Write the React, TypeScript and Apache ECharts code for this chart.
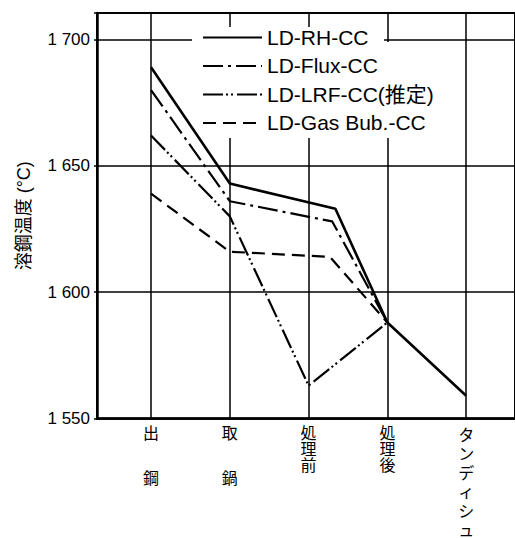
import React, { useEffect, useRef } from 'react';
import * as echarts from 'echarts';

const categories = ['出鋼', '取鍋', '処理前', '処理後', 'タンディシュ'];
const seriesNames = ['LD-RH-CC', 'LD-Flux-CC', 'LD-LRF-CC(推定)', 'LD-Gas Bub.-CC'];
const rhX = [0, 1, 2.34, 3, 4];
const rhY = [1689, 1643, 1633, 1588, 1559];
const fluxX = [0, 1, 2.3, 3];
const fluxY = [1680, 1636, 1628, 1588];
const lrfX = [0, 1, 2, 3];
const lrfY = [1662, 1630, 1563, 1588];
const gasX = [0, 1, 2.27, 3];
const gasY = [1639, 1616, 1614, 1588];
const categoryPositions = [0, 1, 2, 3, 4];

const FONT = "'Liberation Sans', 'Noto Sans CJK JP', sans-serif";

function pairs(xs: number[], ys: number[]) {
  return xs.map((x, i) => [x, ys[i]]);
}

export default function App() {
  const ref = useRef<HTMLDivElement>(null);
  useEffect(() => {
    if (!ref.current) return;
    const chart = echarts.init(ref.current, undefined, { renderer: 'svg' });
    const lineBase = {
      type: 'line',
      symbol: 'none',
      showSymbol: false,
      silent: true,
      itemStyle: { color: '#000' },
    };
    chart.setOption({
      animation: false,
      backgroundColor: '#fff',
      textStyle: { fontFamily: FONT, color: '#000' },
      grid: {
        left: 97,
        top: 13,
        right: -3,
        bottom: 111,
        show: true,
        borderColor: '#000',
        borderWidth: 2,
      },
      graphic: [
        {
          type: 'rect',
          z: 3,
          silent: true,
          shape: { x: 192, y: 27, width: 192, height: 15 },
          style: { fill: '#fff' },
        },
        {
          type: 'rect',
          z: 3,
          silent: true,
          shape: { x: 192, y: 42, width: 250, height: 96 },
          style: { fill: '#fff' },
        },
      ],
      legend: {
        data: seriesNames,
        orient: 'vertical',
        left: 192,
        top: 24,
        padding: [3, 8, 5, 10],
        itemWidth: 59,
        itemHeight: 14,
        itemGap: 7.5,
        selectedMode: false,
        itemStyle: { opacity: 0 },
        textStyle: { fontSize: 21, color: '#000', fontFamily: FONT },
        z: 10,
      },
      xAxis: {
        type: 'value',
        min: -0.686,
        max: 4.62,
        axisLine: { show: true, onZero: false, lineStyle: { color: '#000', width: 2.5 } },
        axisTick: { show: true, length: 0, customValues: categoryPositions },
        splitLine: { show: true, lineStyle: { color: '#000', width: 1.5 } },
        axisLabel: {
          customValues: categoryPositions,
          margin: 7,
          verticalAlign: 'top',
          color: '#000',
          formatter: (v: number) => {
            const name = categories[Math.round(v)];
            if (!name) return '';
            const chars = Array.from(name);
            if (chars.length === 2) return `{k|${chars[0]}}\n{g| }\n{k|${chars[1]}}`;
            const st = /[\u30A0-\u30FF]/.test(name) ? 'kana' : 'k';
            return chars.map((c) => `{${st}|${c}}`).join('\n');
          },
          rich: {
            k: { fontSize: 16, lineHeight: 16, fontFamily: FONT, color: '#000' },
            kana: { fontSize: 16, lineHeight: 19, fontFamily: FONT, color: '#000' },
            g: { fontSize: 16, lineHeight: 29 },
          },
        },
      },
      yAxis: {
        type: 'value',
        min: 1550,
        max: 1710.5,
        interval: 50,
        name: '溶鋼温度 (°C)',
        nameLocation: 'middle',
        nameRotate: 90,
        nameGap: 64,
        nameTextStyle: { fontSize: 18, color: '#000', fontFamily: FONT },
        axisLine: { show: true, onZero: false, lineStyle: { color: '#000', width: 2.5 } },
        axisTick: { show: true, length: 3, lineStyle: { color: '#000', width: 1.5 } },
        splitLine: { show: true, lineStyle: { color: '#000', width: 1.5 } },
        axisLabel: {
          fontSize: 17,
          color: '#000',
          margin: 7,
          formatter: (v: number) =>
            v % 50 === 0 ? String(v).replace(/^(\d)(\d{3})$/, '$1 $2') : '',
        },
      },
      series: [
        {
          ...lineBase,
          name: seriesNames[3],
          data: pairs(gasX, gasY),
          lineStyle: { color: '#000', width: 2.2, type: [13, 7] },
        },
        {
          ...lineBase,
          name: seriesNames[2],
          data: pairs(lrfX, lrfY),
          lineStyle: { color: '#000', width: 2.2, type: [20, 3, 2, 3, 2, 4] },
        },
        {
          ...lineBase,
          name: seriesNames[1],
          data: pairs(fluxX, fluxY),
          lineStyle: { color: '#000', width: 2.2, type: [20, 5, 3, 5] },
        },
        {
          ...lineBase,
          name: seriesNames[0],
          data: pairs(rhX, rhY),
          lineStyle: { color: '#000', width: 2.6, type: 'solid' },
        },
      ],
    });
    return () => chart.dispose();
  }, []);
  return (
    <div
      ref={ref}
      style={{ position: 'fixed', left: 0, top: 0, width: 515, height: 538, background: '#fff' }}
    />
  );
}
